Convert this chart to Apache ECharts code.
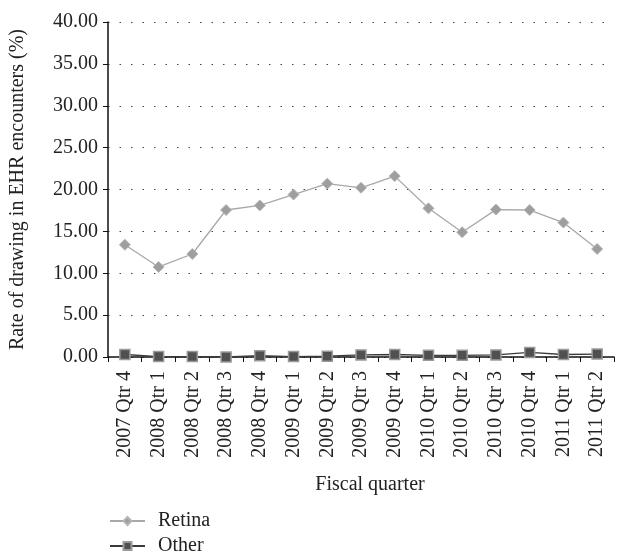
<!DOCTYPE html>
<html><head><meta charset="utf-8">
<script src="https://cdn.jsdelivr.net/npm/echarts@6/dist/echarts.min.js"></script>
<style>html,body{margin:0;padding:0;background:#fff}#c{width:637px;height:558px}</style>
</head><body><div id="c"></div>
<script>
var categories = ['2007 Qtr 4','2008 Qtr 1','2008 Qtr 2','2008 Qtr 3','2008 Qtr 4','2009 Qtr 1','2009 Qtr 2','2009 Qtr 3','2009 Qtr 4','2010 Qtr 1','2010 Qtr 2','2010 Qtr 3','2010 Qtr 4','2011 Qtr 1','2011 Qtr 2'];
var retina = [13.4,10.75,12.3,17.55,18.1,19.4,20.7,20.2,21.6,17.75,14.9,17.6,17.55,16.05,12.9];
var other = [0.3,0.05,0.05,0.0,0.15,0.05,0.1,0.25,0.3,0.2,0.2,0.25,0.55,0.3,0.35];
var font = '"Liberation Serif", "DejaVu Serif", serif';
var chart = echarts.init(document.getElementById('c'));
chart.setOption({
  animation: false,
  textStyle: {fontFamily: font, color: '#222'},
  grid: {left: 105, right: 23, top: 22, bottom: 201, containLabel: false},
  xAxis: {
    type: 'category', data: categories, boundaryGap: true,
    axisLine: {lineStyle: {color: '#111', width: 1.5}},
    axisTick: {show: true, length: 5, lineStyle: {color: '#111'}},
    axisLabel: {rotate: 90, fontSize: 20, color: '#222', margin: 14, fontFamily: font}
  },
  yAxis: {
    type: 'value', min: 0, max: 40, interval: 5,
    name: 'Rate of drawing in EHR encounters (%)', nameLocation: 'middle', nameGap: 80,
    nameTextStyle: {fontSize: 20, color: '#222', fontFamily: font},
    axisLine: {show: true, lineStyle: {color: '#111', width: 1.5}},
    axisTick: {show: true, length: 5, lineStyle: {color: '#111'}},
    axisLabel: {fontSize: 20, color: '#222', margin: 10, fontFamily: font, formatter: function(v){return v.toFixed(2);}},
    splitLine: {show: true, lineStyle: {color: '#444', width: 1, type: [1.5, 10]}}
  },
  legend: {
    orient: 'vertical', left: 104, top: 506, height: 60, itemGap: 5, itemWidth: 35, itemHeight: 10,
    textStyle: {fontSize: 20, color: '#222', fontFamily: font, padding: [0, 0, 0, 8]},
    data: ['Retina', 'Other']
  },
  graphic: [{type: 'text', x: 370, y: 485, style: {text: 'Fiscal quarter', font: '20px ' + font, fill: '#222', align: 'center', verticalAlign: 'middle'}}],
  series: [
    {name: 'Retina', type: 'line', data: retina, symbol: 'diamond', symbolSize: 11,
     lineStyle: {color: '#a8a8a8', width: 1.3}, itemStyle: {color: '#9e9e9e', borderColor: '#b5b5b5', borderWidth: 1}},
    {name: 'Other', type: 'line', data: other, symbol: 'rect', symbolSize: 10,
     lineStyle: {color: '#3a3a3a', width: 1.3}, itemStyle: {color: '#505050', borderColor: '#9a9a9a', borderWidth: 1.5}}
  ]
});
</script></body></html>
